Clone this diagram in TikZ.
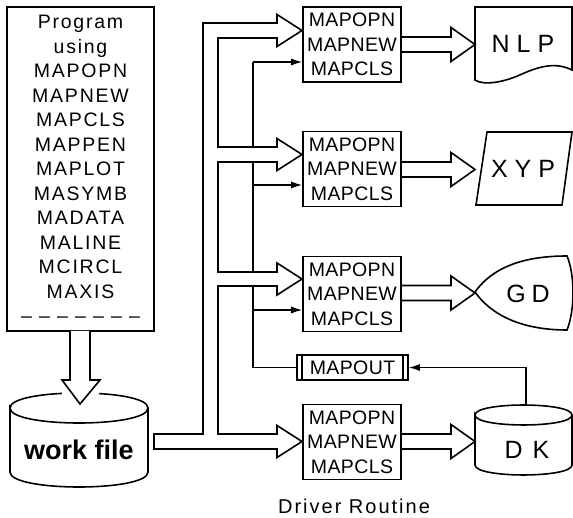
\documentclass[tikz,border=0pt]{standalone}
\usepackage{fontspec}
\setmainfont{Liberation Sans}
\newfontfamily\progfont{Liberation Sans}[LetterSpace=9]
\newfontfamily\drvfont{Liberation Sans}[LetterSpace=2]
\newfontfamily\capfont{Liberation Sans}[LetterSpace=10]
\usetikzlibrary{arrows.meta}
\begin{document}
\begin{tikzpicture}[x=1pt,y=-1pt,
  ln/.style={line width=1.6pt, line join=miter},
  sline/.style={line width=1.3pt},
  tipped/.style={-{Latex[length=11pt,width=7pt]}},
  wide/.style={line width=1.6pt, line join=miter, fill=white},
  drvbox/.style={draw, line width=1.6pt, minimum width=98pt, minimum height=75pt,
    inner sep=0pt, align=center, font=\drvfont\fontsize{19.5}{24.5}\selectfont},
  devtext/.style={font=\fontsize{25}{30}\selectfont, inner sep=0pt},
]
\useasboundingbox (0,0) rectangle (573,518);

% program box
\node[draw, line width=1.6pt, minimum width=147pt, minimum height=324pt, inner sep=0pt,
  align=center, font=\progfont\fontsize{19.5}{24.5}\selectfont] (prog) at (80.5,169)
  {Program\\using\\MAPOPN\\MAPNEW\\MAPCLS\\MAPPEN\\MAPLOT\\MASYMB\\MADATA\\MALINE\\MCIRCL\\MAXIS\\
   \textendash\ \textendash\ \textendash\ \textendash\ \textendash\ \textendash\ \textendash};

% work file cylinder
\draw[ln] (10,408) .. controls (10,388) and (148,388) .. (148,408)
  .. controls (148,428) and (10,428) .. (10,408) -- (10,472)
  .. controls (10,492) and (148,492) .. (148,472) -- (148,408);
\fill[white] (62,384) rectangle (99,401);
\node[font=\bfseries\fontsize{27}{30}\selectfont, inner sep=0pt] (wf) at (79,450) {work file};

% wide arrow program -> work file
\draw[wide] (70,331) -- (70,380) -- (62,380) -- (80,404) -- (100,380) -- (90,380) -- (90,331);

% driver boxes
\node[drvbox] (d1) at (352,44.5) {MAPOPN\\MAPNEW\\MAPCLS};
\node[drvbox] (d2) at (352,169) {MAPOPN\\MAPNEW\\MAPCLS};
\node[drvbox] (d3) at (352,294) {MAPOPN\\MAPNEW\\MAPCLS};
\node[drvbox] (d4) at (352,442) {MAPOPN\\MAPNEW\\MAPCLS};

% MAPOUT
\node[draw, line width=1.6pt, minimum width=111pt, minimum height=25pt, inner sep=0pt,
  font=\drvfont\fontsize{19.5}{24.5}\selectfont] (mo) at (352.5,367.5) {MAPOUT};
\draw[ln] ([xshift=6pt]mo.north west) -- ([xshift=6pt]mo.south west);
\draw[ln] ([xshift=-6pt]mo.north east) -- ([xshift=-6pt]mo.south east);

% devices
\draw[ln] (475,7) -- (572,7) -- (572,70)
  .. controls (556,62) and (540,66) .. (522,74)
  .. controls (505,82) and (484,86) .. (475,80) -- cycle;
\node[devtext] (nlp) at (523,44) {N L P};

\draw[ln] (487,132) -- (572,132) -- (562,205) -- (476,205) -- cycle;
\node[devtext] (xyp) at (523,169) {X Y P};

\draw[ln] (475,292) .. controls (495,264) and (530,256) .. (567,256)
  .. controls (575,275) and (575,310) .. (567,330)
  .. controls (530,330) and (495,320) .. (475,292) -- cycle;
\node[devtext] (gd) at (528,294) {G\hspace{6pt}D};

\draw[ln] (475,415) .. controls (475,401.7) and (572,401.7) .. (572,415)
  .. controls (572,428.3) and (475,428.3) .. (475,415) -- (475,465)
  .. controls (475,478.3) and (572,478.3) .. (572,465) -- (572,415);
\node[devtext] (dk) at (527,450) {D\hspace{10pt}K};

% feedback single lines
\coordinate (dktop) at (526,405);
\coordinate (j1) at (253,62);
\coordinate (j2) at (253,185);
\coordinate (j3) at (253,310);
\draw[sline, tipped] (dktop) |- (mo.east);
\draw[sline] (mo.west) -| (j1);
\draw[sline, tipped] (j1) -- (j1 -| d1.west);
\draw[sline, tipped] (j2) -- (j2 -| d2.west);
\draw[sline, tipped] (j3) -- (j3 -| d3.west);

% wide distribution network
\draw[wide] (302,441.5) -- (277,457.5) -- (277,449) -- (154,449) -- (154,434) -- (203,434)
  -- (203,23) -- (277,23) -- (277,14.5) -- (302,30.5) -- (277,46.5) -- (277,38) -- (218,38)
  -- (218,147) -- (277,147) -- (277,138.5) -- (302,154.5) -- (277,170.5) -- (277,162) -- (218,162)
  -- (218,272) -- (277,272) -- (277,263) -- (302,279) -- (277,295) -- (277,286) -- (218,286)
  -- (218,434) -- (277,434) -- (277,425.5) -- cycle;

% wide output arrows
\draw[ln] (401,37) -- (451,37) -- (451,27.5) -- (475,44.5) -- (451,61.5) -- (451,52) -- (401,52);
\draw[ln] (401,162) -- (451,162) -- (451,152.5) -- (475,169.5) -- (451,186.5) -- (451,177) -- (401,177);
\draw[ln] (401,285.5) -- (451,285.5) -- (451,276) -- (475,293) -- (451,310) -- (451,300.5) -- (401,300.5);
\draw[ln] (401,434) -- (451,434) -- (451,424.5) -- (475,441.5) -- (451,458.5) -- (451,449) -- (401,449);

% caption
\node[font=\capfont\fontsize{20}{24}\selectfont, inner sep=0pt] (cap) at (354,506) {Driver Routine};
\end{tikzpicture}
\end{document}
